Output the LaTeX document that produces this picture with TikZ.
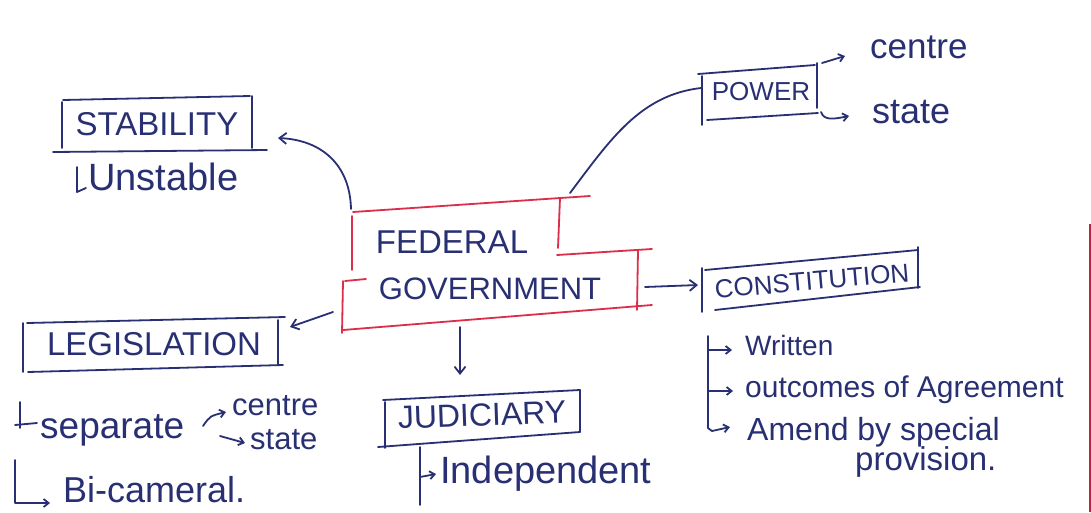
\documentclass[tikz,border=0pt]{standalone}
\usepackage{fontspec}
\setmainfont{Liberation Sans}
\usetikzlibrary{arrows.meta}
\definecolor{ink}{RGB}{40,48,115}
\definecolor{redink}{RGB}{220,45,75}
\begin{document}
\begin{tikzpicture}[x=1pt,y=-1pt,
  pen/.style={draw=ink,line width=1.8pt,line cap=round,line join=round},
  redpen/.style={draw=redink,line width=1.8pt,line cap=round},
  arr/.style={pen,-{Straight Barb[length=7pt,width=11pt]}},
  sarr/.style={pen,-{Straight Barb[length=5pt,width=8pt]}},
  lbl/.style={text=ink,inner sep=0pt},
  caps/.style={lbl,font=\fontsize{#1}{#1}\selectfont},
  hand/.style={lbl,anchor=base west,font=\fontsize{#1}{#1}\selectfont}]
\useasboundingbox (0,0) rectangle (1091,512);
\fill[white] (0,0) rectangle (1091,512);

% page margin line
\draw[draw=redink!85!black,line width=2pt] (1089.5,224) -- (1089.5,512);

% ---------- STABILITY ----------
\node[caps=33] (stab) at (157,124) {STABILITY};
\draw[pen] (62,102) -- (62,148);
\draw[pen] (63,100) -- (250,96);
\draw[pen] (252,96) -- (252,148);
\draw[pen] (53,152) -- (267,150);
\coordinate (stabR) at (278,138);
\node[hand=38] (unst) at (88,190) {Unstable};
\draw[pen] (77,167) -- (77,192) -- (86,188);

% ---------- FEDERAL GOVERNMENT ----------
\node[caps=33] (fed) at (452,242) {FEDERAL};
\node[caps=31] (gov) at (490,289) {GOVERNMENT};
\draw[redpen] (353,212) -- (590,196);
\draw[redpen] (352,216) -- (352,270);
\draw[redpen] (560,198) -- (558,248);
\draw[redpen] (557,255) -- (652,249);
\draw[redpen] (638,250) -- (637,310);
\draw[redpen] (345,281) -- (366,279);
\draw[redpen] (343,281) -- (342,333);
\draw[redpen] (343,330) -- (652,305);
\coordinate (fedTL) at (351,209);
\coordinate (fedTR) at (570,193);
\coordinate (govL) at (333,312);
\coordinate (govB) at (460,327);
\coordinate (govR) at (645,287);

\draw[arr] (fedTL) .. controls (350,165) and (322,140) .. (stabR);

% ---------- POWER ----------
\node[caps=26] (pow) at (761,92) {POWER};
\draw[pen] (698,74) -- (815,65);
\draw[pen] (702,76) -- (702,125);
\draw[pen] (817,63) -- (817,108);
\draw[pen] (707,120) -- (818,113);
\coordinate (powL) at (701,88);
\draw[pen] (fedTR) .. controls (610,140) and (640,95) .. (powL);
\coordinate (powTR) at (822,63);
\coordinate (pcenA) at (845,56);
\draw[sarr] (powTR) -- (pcenA);
\node[hand=35] (pcen) at (870,58) {centre};
\coordinate (powBR) at (821,112);
\coordinate (pstaA) at (849,116);
\draw[sarr] (powBR) .. controls (824,121) and (834,119) .. (pstaA);
\node[hand=36] (psta) at (872,123) {state};

% ---------- CONSTITUTION ----------
\node[caps=26,rotate=5] (con) at (812,281) {CONSTITUTION};
\draw[pen] (705,270) -- (918,250);
\draw[pen] (702,268) -- (702,312);
\draw[pen] (918,247) -- (918,288);
\draw[pen] (715,310) -- (920,287);
\coordinate (conL) at (698,285);
\draw[arr] (govR) -- (conL);
\draw[pen] (708,336) -- (708,428);
\draw[sarr] (708,350) -- (732,350);
\draw[sarr] (709,391) -- (733,391);
\draw[sarr] (708,428) -- (712,431) -- (730,427);
\node[hand=28] (wri) at (745,355) {Written};
\node[hand=30] (out) at (745,397) {outcomes of Agreement};
\node[hand=32] (ame) at (747,440) {Amend by special};
\node[hand=33] (pro) at (855,470) {provision.};

% ---------- LEGISLATION ----------
\node[caps=33] (leg) at (154,344) {LEGISLATION};
\draw[pen] (23,323) -- (23,372);
\draw[pen] (27,323) -- (285,317);
\draw[pen] (278,320) -- (278,365);
\draw[pen] (28,372) -- (283,365);
\coordinate (legR) at (290,327);
\draw[arr] (govL) -- (legR);
\draw[pen] (20,402) -- (20,428);
\draw[pen] (15,425) -- (37,423);
\node[hand=37] (sep) at (40,438) {separate};
\draw[sarr] (203,426) .. controls (210,416) .. (226,412);
\node[hand=31] (lcen) at (232,415) {centre};
\draw[sarr] (220,436) -- (245,443);
\node[hand=31] (lsta) at (250,449) {state};
\draw[sarr] (15,460) -- (15,503) -- (50,503);
\node[hand=36] (bic) at (63,502) {Bi-cameral.};

% ---------- JUDICIARY ----------
\coordinate (judT) at (460,375);
\draw[arr] (govB) -- (judT);
\node[caps=32,rotate=2] (jud) at (482,415) {JUDICIARY};
\draw[pen] (383,400) -- (580,390);
\draw[pen] (385,402) -- (385,448);
\draw[pen] (580,390) -- (580,432);
\draw[pen] (378,447) -- (580,432);
\draw[pen] (420,447) -- (420,505);
\draw[sarr] (420,477) -- (436,474);
\node[hand=38] (ind) at (440,483) {Independent};
\end{tikzpicture}
\end{document}
